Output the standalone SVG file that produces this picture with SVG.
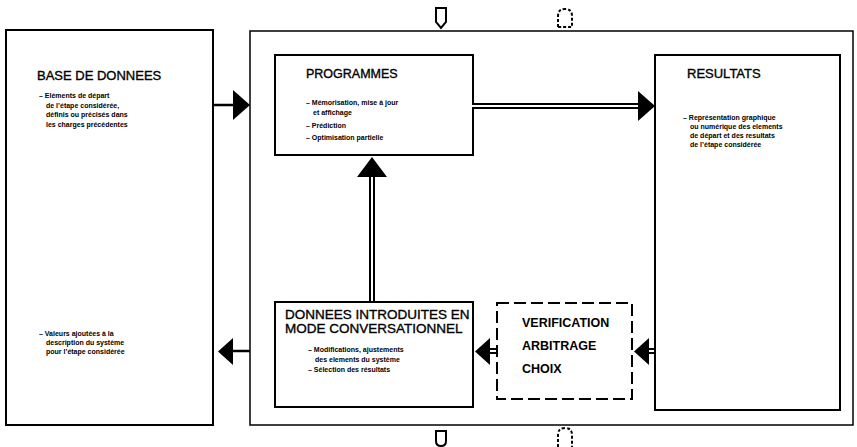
<svg xmlns="http://www.w3.org/2000/svg" width="857" height="447" viewBox="0 0 857 447">
<style>
.box{fill:none;stroke:#000;stroke-width:2}
.frame{fill:none;stroke:#000;stroke-width:1.5}
.dash{fill:none;stroke:#000;stroke-width:2;stroke-dasharray:12 5}
.title{font-family:"Liberation Sans",Arial,sans-serif;font-size:13px;fill:#000;stroke:#000;stroke-width:0.35}
.vt{font-family:"Liberation Sans",Arial,sans-serif;font-size:12.5px;font-weight:bold;fill:#000}
.txt{font-family:"Liberation Sans",Arial,sans-serif;font-size:7px;font-weight:bold;fill:#000}
.head{fill:#000;stroke:none}
.line{fill:none;stroke:#000;stroke-width:2.5}
.dbl{fill:none;stroke:#000;stroke-width:6}
.dblin{fill:none;stroke:#fff;stroke-width:2}
.sym{fill:none;stroke:#000;stroke-width:2}
.symd{fill:none;stroke:#000;stroke-width:2;stroke-dasharray:3 2}
</style>
<rect width="857" height="447" fill="#fff"/>

<g id="frame">
<rect class="frame" x="250" y="31" width="603" height="394"/>
<path class="sym" d="M436,8 L446,8 L446,22 L441,28 L436,22 Z"/>
<path class="symd" d="M558,27 L558,16 Q558,9 565,9 Q572,9 572,16 L572,27 Z"/>
<path class="sym" d="M436,431 L446,431 L446,441 Q446,446 441,446 Q436,446 436,441 Z"/>
<path class="symd" d="M558,447 L558,435 Q558,428 565,428 Q572,428 572,435 L572,447"/>
</g>

<g id="base-de-donnees">
<rect class="box" x="6" y="30" width="207" height="395"/>
<text class="title" x="37" y="80">BASE DE DONNEES</text>
<text class="txt" x="39" y="98">– Eléments de départ</text>
<text class="txt" x="46" y="107.5">de l’étape considérée,</text>
<text class="txt" x="46" y="117">définis ou précisés dans</text>
<text class="txt" x="46" y="126.5">les charges précédentes</text>
<text class="txt" x="39" y="336">– Valeurs ajoutées à la</text>
<text class="txt" x="46" y="345">description du système</text>
<text class="txt" x="46" y="354">pour l’étape considérée</text>
</g>

<g id="programmes">
<rect class="box" x="275" y="55" width="198" height="100"/>
<text class="title" x="306" y="78" style="font-size:12.5px">PROGRAMMES</text>
<text class="txt" x="306" y="105">– Mémorisation, mise à jour</text>
<text class="txt" x="313" y="115">et affichage</text>
<text class="txt" x="306" y="127.5">– Prédiction</text>
<text class="txt" x="306" y="140">– Optimisation partielle</text>
</g>

<g id="resultats">
<rect class="box" x="655" y="55" width="185" height="355"/>
<text class="title" x="687" y="78">RESULTATS</text>
<text class="txt" x="683" y="120">– Représentation graphique</text>
<text class="txt" x="690" y="129">ou numérique des elements</text>
<text class="txt" x="690" y="138">de départ et des resultats</text>
<text class="txt" x="690" y="147">de l’étape considérée</text>
</g>

<g id="donnees-introduites">
<rect class="box" x="275" y="302" width="198" height="105"/>
<text class="title" x="285" y="319" style="font-size:13.5px">DONNEES  INTRODUITES EN</text>
<text class="title" x="285" y="333" style="font-size:13.5px">MODE CONVERSATIONNEL</text>
<text class="txt" x="308" y="352">– Modifications, ajustements</text>
<text class="txt" x="315" y="362">des elements du système</text>
<text class="txt" x="308" y="372">– Sélection des résultats</text>
</g>

<g id="verification">
<rect class="dash" x="497" y="303" width="135" height="96"/>
<text class="vt" x="522" y="327">VERIFICATION</text>
<text class="vt" x="522" y="350">ARBITRAGE</text>
<text class="vt" x="522" y="373">CHOIX</text>
</g>

<g id="connectors">
<line class="line" x1="213" y1="105" x2="234" y2="105"/>
<polygon class="head" points="233,90 250,105 233,120"/>
<line class="dbl" x1="473" y1="106" x2="639" y2="106"/>
<line class="dblin" x1="472" y1="106" x2="640" y2="106"/>
<polygon class="head" points="638,91 655,106 638,121"/>
<line class="dbl" x1="372" y1="302" x2="372" y2="176"/>
<line class="dblin" x1="372" y1="301" x2="372" y2="177"/>
<polygon class="head" points="357,177 372,157 387,177"/>
<line class="dbl" x1="489" y1="351" x2="497" y2="351"/>
<line class="dblin" x1="489" y1="351" x2="496" y2="351"/>
<polygon class="head" points="490,338 475,351.5 490,365"/>
<line class="dbl" x1="648" y1="351" x2="655" y2="351"/>
<line class="dblin" x1="648" y1="351" x2="654" y2="351"/>
<polygon class="head" points="649,338 634,351.5 649,365"/>
<line class="line" x1="232" y1="351" x2="250" y2="351"/>
<polygon class="head" points="233,338 218,351.5 233,365"/>
</g>
</svg>
